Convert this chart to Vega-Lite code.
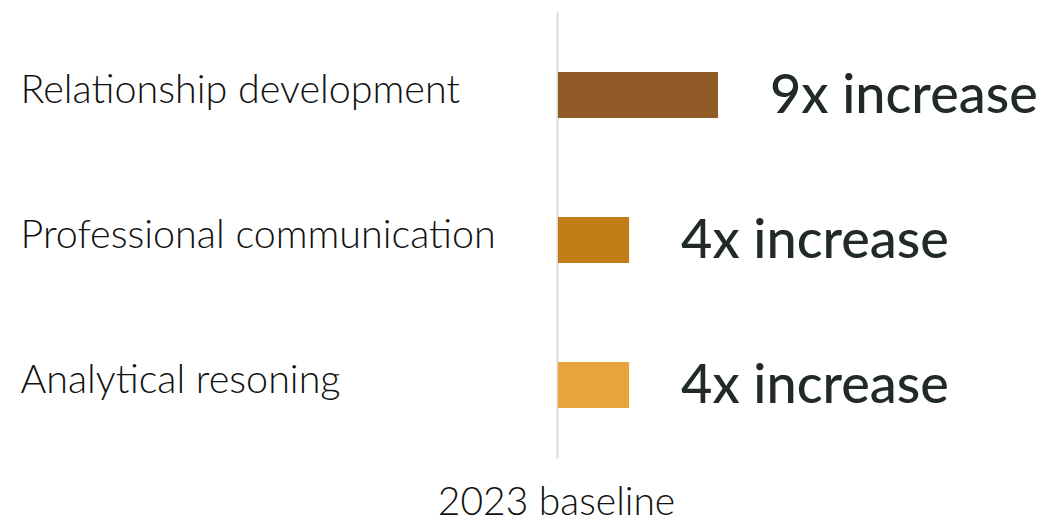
{
  "$schema": "https://vega.github.io/schema/vega-lite/v6.json",
  "autosize": "none",
  "padding": {"left": 558, "top": 12, "right": 8, "bottom": 66},
  "width": 480,
  "height": 446,
  "background": "white",
  "config": {"view": {"stroke": null}},
  "data": {
    "values": [
      {"skill": "Relationship development", "multiple": 9, "label": "9x increase"},
      {"skill": "Professional communication", "multiple": 4, "label": "4x increase"},
      {"skill": "Analytical resoning", "multiple": 4, "label": "4x increase"}
    ]
  },
  "encoding": {
    "y": {
      "field": "skill",
      "type": "nominal",
      "sort": null,
      "scale": {"paddingInner": 0.683, "paddingOuter": 0.38, "align": 0.545},
      "axis": {
        "title": null,
        "ticks": false,
        "domain": true,
        "domainColor": "#d9d9d9",
        "domainWidth": 2,
        "offset": 1,
        "labelAlign": "left",
        "labelBaseline": "alphabetic",
        "labelOffset": 8,
        "labelPadding": 537,
        "labelFont": "Lato",
        "labelFontWeight": 300,
        "labelFontSize": 39.5,
        "labelColor": "#111111",
        "labelLimit": 600
      }
    },
    "x": {
      "field": "multiple",
      "type": "quantitative",
      "scale": {"domain": [0, 27]},
      "axis": {
        "grid": false,
        "labels": false,
        "ticks": false,
        "domain": false,
        "title": "2023 baseline",
        "titleX": -2,
        "titleY": 56,
        "titleAlign": "center",
        "titleBaseline": "alphabetic",
        "titleFont": "Lato",
        "titleFontWeight": 300,
        "titleFontSize": 39,
        "titleColor": "#111111"
      }
    }
  },
  "layer": [
    {
      "mark": {"type": "bar"},
      "encoding": {
        "color": {
          "field": "skill",
          "type": "nominal",
          "scale": {
            "domain": ["Relationship development", "Professional communication", "Analytical resoning"],
            "range": ["#8f5a25", "#c27c17", "#e8a33d"]
          },
          "legend": null
        }
      }
    },
    {
      "mark": {
        "type": "text",
        "align": "left",
        "baseline": "alphabetic",
        "dx": 52,
        "dy": 18,
        "font": "Lato",
        "fontWeight": 500,
        "fontSize": 54,
        "color": "#222a29"
      },
      "encoding": {"text": {"field": "label"}}
    }
  ]
}
